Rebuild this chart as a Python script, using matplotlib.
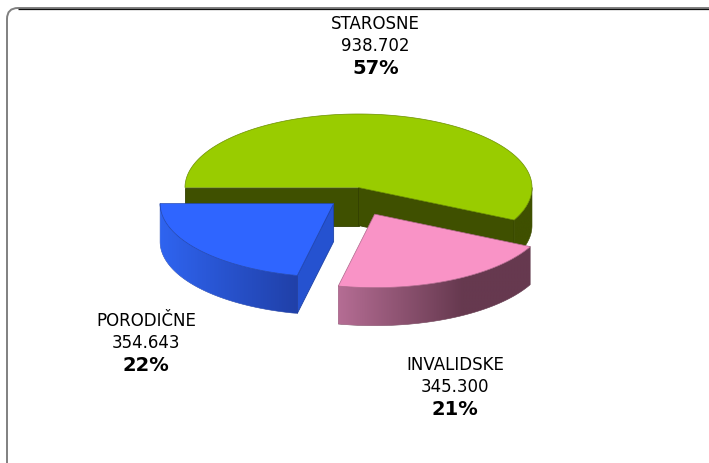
import numpy as np
from matplotlib import pyplot as plt
from matplotlib.colors import LinearSegmentedColormap, to_rgb
from matplotlib.patches import FancyBboxPatch, Polygon

plt.rcParams['font.family'] = ['DejaVu Sans']

names = ['STAROSNE', 'INVALIDSKE', 'PORODIČNE']
values = [938702, 345300, 354643]
value_labels = ['938.702', '345.300', '354.643']
percents = ['57%', '21%', '22%']

# pie geometry in pixels
cx, cy = 358.5, 188.5
rx, ry = 173.5, 73.5
depth = 38
explode = [0, 37, 32]
explode_tilt = 0.8

top_colors = ['#99CC00', '#F993C6', '#2F65FF']
cut_colors = ['#3F5000', '#66394F', '#2552D0']
wall_left = ['#3F5000', '#B56D94', '#2F64F0']
wall_right = ['#3F5000', '#66394F', '#2040A8']
wall_stop = [1.0, 0.65, 1.0]
label_x = [375.5, 455, 146]
label_y = [24, 365, 321]

fig = plt.figure(figsize=(7.09, 4.64), dpi=100)
ax = fig.add_axes([0, 0, 1, 1])
ax.axis('off')

ax.add_patch(FancyBboxPatch((7, 9), 760, 500, boxstyle='round,pad=0,rounding_size=11',
                            fc='white', ec='#808080', lw=1.4))
ax.plot([18, 709], [9.5, 9.5], color='#101010', lw=0.9, solid_capstyle='butt')


def ell(a, ox, oy):
    a = np.radians(a)
    return ox + rx * np.cos(a), oy - ry * np.sin(a)


def mix(c1, c2, t):
    return np.array(to_rgb(c1)) * (1 - t) + np.array(to_rgb(c2)) * t


def draw_slice(i, a0, a1):
    mid = np.radians((a0 + a1) / 2)
    ox = cx + explode[i] * np.cos(mid)
    oy = cy - explode[i] * np.sin(mid) * explode_tilt

    # cut faces, only the ones turned to the viewer
    for a, normal in ((a0, a0 + 90), (a1, a1 - 90)):
        if np.sin(np.radians(normal)) < 0:
            ex, ey = ell(a, ox, oy)
            face = [(ox, oy), (ex, ey), (ex, ey + depth), (ox, oy + depth)]
            ax.add_patch(Polygon(face, fc=cut_colors[i], ec=mix(cut_colors[i], '#000000', 0.2), lw=0.6))

    # outer wall, gradient image clipped to the front part of the rim
    lo, hi = max(a1, -180), min(a0, 0)
    angs = np.linspace(hi, lo, 120)
    upper = [ell(a, ox, oy) for a in angs]
    lower = [(x, y + depth) for x, y in upper][::-1]
    wall = Polygon(upper + lower, fc='none', ec=mix(wall_right[i], '#000000', 0.1), lw=0.4)
    ax.add_patch(wall)
    xs = [p[0] for p in upper]
    ys = [p[1] for p in upper + lower]
    cmap = LinearSegmentedColormap.from_list('wall', [(0, wall_left[i]), (wall_stop[i], wall_right[i]),
                                                      (1, wall_right[i])])
    im = ax.imshow(np.linspace(0, 1, 256).reshape(1, -1), cmap=cmap, aspect='auto',
                   extent=(min(xs), max(xs), max(ys), min(ys)), zorder=wall.get_zorder())
    im.set_clip_path(wall)

    # top face
    angs = np.linspace(a0, a1, 200)
    pts = [(ox, oy)] + [ell(a, ox, oy) for a in angs]
    ax.add_patch(Polygon(pts, fc=top_colors[i], ec=mix(top_colors[i], '#000000', 0.3), lw=0.5, zorder=1.5 + i))


start = 180
total = sum(values)
for i, v in enumerate(values):
    sweep = v / total * 360
    draw_slice(i, start, start - sweep)
    start -= sweep

ax.set_xlim(0, 709)
ax.set_ylim(464, 0)

for i in range(3):
    ax.text(label_x[i], label_y[i], names[i], ha='center', va='center', fontsize=12, color='black', zorder=5)
    ax.text(label_x[i], label_y[i] + 22, value_labels[i], ha='center', va='center', fontsize=12, color='black', zorder=5)
    ax.text(label_x[i], label_y[i] + 44.5, percents[i], ha='center', va='center', fontsize=14,
            fontweight='bold', color='black', zorder=5)

plt.savefig('out.png', dpi=100)
